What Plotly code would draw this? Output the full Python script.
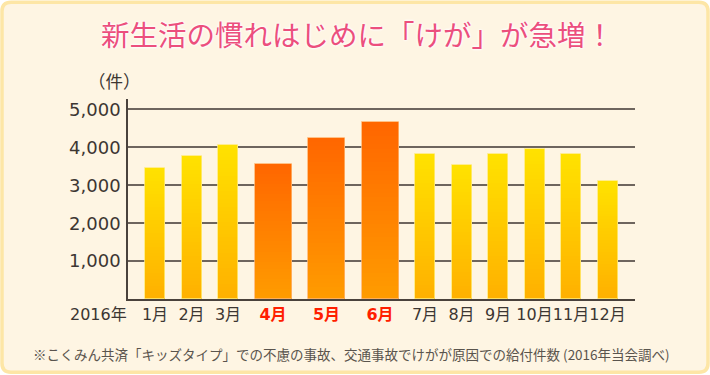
import plotly.graph_objects as go

# ---- data ----
months = ["1月", "2月", "3月", "4月", "5月", "6月", "7月", "8月", "9月", "10月", "11月", "12月"]
counts = [3460, 3780, 4060, 3570, 4240, 4660, 3820, 3530, 3820, 3950, 3820, 3110]
highlight = [False, False, False, True, True, True, False, False, False, False, False, False]
year_label = "2016年"
y_ticks = [1000, 2000, 3000, 4000, 5000]
title_text = "新生活の慣れはじめに「けが」が急増！"
unit_text = "（件）"
note_text = "※こくみん共済「キッズタイプ」での不慮の事故、交通事故でけがが原因での給付件数 (2016年当会調べ)"

# ---- layout constants (pixel-like x units) ----
W, H = 710, 375
X0, X1 = 128, 635          # plot area in px
Y_TOP, Y_BOT = 99, 299.5
PX_PER_1000 = 38.0
y_max = (Y_BOT - Y_TOP) / PX_PER_1000 * 1000

narrow_w, wide_w, gap = 20, 37, 16.5
first_left = 145
widths, centers = [], []
left = first_left
for h in highlight:
    w = wide_w if h else narrow_w
    widths.append(w)
    centers.append(left + w / 2)
    left += w + gap

yellow_top, yellow_bot = (255, 226, 0), (255, 176, 0)
orange_top, orange_bot = (255, 102, 0), (255, 156, 0)


def mix(a, b, t):
    return "rgb(%d,%d,%d)" % tuple(round(a[i] + (b[i] - a[i]) * t) for i in range(3))


def px(xp):
    return (xp - X0) / (X1 - X0)


def py(yp):
    return (Y_BOT - yp) / (Y_BOT - Y_TOP)


fig = go.Figure()
N = 40
for k in range(N):
    t = (k + 0.5) / N  # 0 bottom -> 1 top
    cols = [mix(orange_bot, orange_top, t) if h else mix(yellow_bot, yellow_top, t) for h in highlight]
    fig.add_trace(go.Bar(
        x=centers, y=[v / N for v in counts], base=[v * k / N for v in counts],
        width=widths, marker=dict(color=cols, line=dict(width=0)),
        showlegend=False, hoverinfo="skip"))
# thin light outline
fig.add_trace(go.Bar(
    x=centers, y=counts, base=[0] * len(counts), width=widths,
    marker=dict(color="rgba(0,0,0,0)",
                line=dict(width=1, color=["rgba(255,180,110,0.8)" if h else "rgba(255,235,120,0.8)" for h in highlight])),
    showlegend=False, hovertemplate="%{customdata}: %{y:,}件<extra></extra>",
    customdata=months, textposition="none"))

ticktext = ["<b><span style='color:#ff1e00'>%s</span></b>" % m if h else m
            for m, h in zip(months, highlight)]

# rounded border in pixel coords -> paper coords
bx0, by0, bx1, by1, r = 2, 2, 708, 373, 9
path = ("M {a},{b} L {c},{b} Q {e},{b} {e},{f} L {e},{g} Q {e},{h} {c},{h} "
        "L {a},{h} Q {i},{h} {i},{g} L {i},{f} Q {i},{b} {a},{b} Z").format(
    a=px(bx0 + r), b=py(by0), c=px(bx1 - r), e=px(bx1), f=py(by0 + r),
    g=py(by1 - r), h=py(by1), i=px(bx0))

fig.update_layout(
    width=W, height=H, autosize=False,
    margin=dict(l=X0, r=W - X1, t=Y_TOP, b=H - Y_BOT, pad=0, autoexpand=False),
    paper_bgcolor="white", plot_bgcolor="rgba(0,0,0,0)",
    barmode="overlay", bargap=0,
    font=dict(family="DejaVu Sans, Noto Sans CJK JP", color="#3c3632"),
    xaxis=dict(range=[X0, X1], tickvals=centers, ticktext=ticktext, tickangle=0,
               showgrid=False, zeroline=False, showline=True, linecolor="#4a423c", linewidth=1.5,
               ticks="", tickfont=dict(size=16, family="DejaVu Sans, Noto Sans CJK JP", color="#3c3632"),
               ticklabelstandoff=0, automargin=False, fixedrange=True),
    yaxis=dict(range=[0, y_max], tickvals=y_ticks, tickformat=",d",
               showgrid=True, gridcolor="#6e655e", gridwidth=1.6, zeroline=False,
               showline=True, linecolor="#4a423c", linewidth=1.5, ticks="",
               tickfont=dict(size=18, family="DejaVu Sans", color="#3c3632"),
               ticklabelstandoff=2, automargin=False, fixedrange=True),
    shapes=[dict(type="path", xref="paper", yref="paper", layer="below", path=path,
                 fillcolor="#fef5e3", line=dict(color="#fde6a6", width=3.5))],
    annotations=[
        dict(text=title_text, xref="paper", yref="paper", x=px(357), y=py(33),
             xanchor="center", yanchor="middle", showarrow=False,
             font=dict(size=28.5, family="Noto Sans CJK JP", color="#ec4f7d",
                       shadow="0 0 3px #ffffff, 0 0 3px #ffffff, 0 0 2px #ffffff")),
        dict(text=unit_text, xref="paper", yref="paper", x=px(114), y=py(80),
             xanchor="center", yanchor="middle", showarrow=False,
             font=dict(size=17.5, family="Noto Sans CJK JP", color="#3c3632")),
        dict(text=year_label, xref="paper", yref="paper", x=px(98), y=py(315),
             xanchor="center", yanchor="middle", showarrow=False,
             font=dict(size=16, family="DejaVu Sans, Noto Sans CJK JP", color="#3c3632")),
        dict(text=note_text, xref="paper", yref="paper", x=px(351), y=py(355),
             xanchor="center", yanchor="middle", showarrow=False,
             font=dict(size=13.5, family="Noto Sans CJK JP", color="#5a544d")),
    ],
)

fig.write_html("out.html", config={"displayModeBar": False},
               post_script="document.body.style.margin='0';document.body.style.overflow='hidden';")
